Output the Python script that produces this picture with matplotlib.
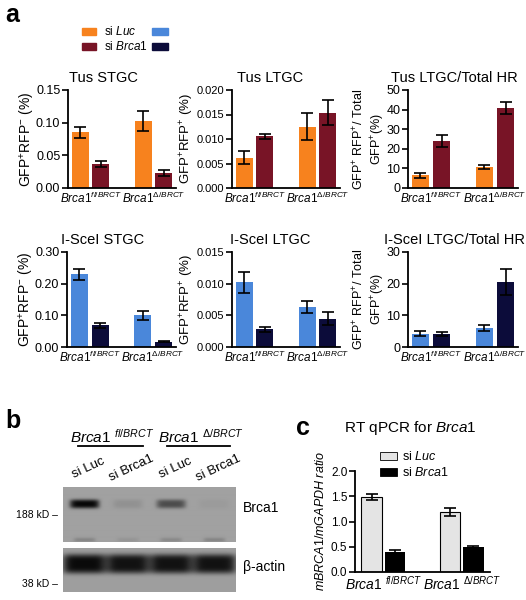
import matplotlib
matplotlib.use('Agg')
import matplotlib.pyplot as plt
import numpy as np
from matplotlib.patches import Rectangle
from matplotlib.lines import Line2D

plt.rcParams['font.family'] = ['Liberation Sans', 'DejaVu Sans']
plt.rcParams['mathtext.fontset'] = 'custom'
plt.rcParams['mathtext.rm'] = 'Liberation Sans'
plt.rcParams['mathtext.it'] = 'Liberation Sans:italic'
plt.rcParams['mathtext.bf'] = 'Liberation Sans:bold'

W, H = 526, 600

# ---------------- data ----------------
genotype_labels = [r'$\mathit{Brca1}^{\mathit{fl/BRCT}}$', r'$\mathit{Brca1}^{\mathit{Δ/BRCT}}$']

tus_stgc_luc = [0.085, 0.103]
tus_stgc_luc_err = [0.009, 0.015]
tus_stgc_brca1 = [0.037, 0.023]
tus_stgc_brca1_err = [0.005, 0.004]

tus_ltgc_luc = [0.0062, 0.0125]
tus_ltgc_luc_err = [0.0014, 0.0028]
tus_ltgc_brca1 = [0.0106, 0.0154]
tus_ltgc_brca1_err = [0.0005, 0.0025]

tus_ratio_luc = [6.5, 10.5]
tus_ratio_luc_err = [1.2, 1.0]
tus_ratio_brca1 = [24.0, 41.0]
tus_ratio_brca1_err = [3.0, 3.0]

isce_stgc_luc = [0.230, 0.100]
isce_stgc_luc_err = [0.017, 0.015]
isce_stgc_brca1 = [0.068, 0.017]
isce_stgc_brca1_err = [0.009, 0.002]

isce_ltgc_luc = [0.0102, 0.0063]
isce_ltgc_luc_err = [0.0017, 0.0010]
isce_ltgc_brca1 = [0.0028, 0.0045]
isce_ltgc_brca1_err = [0.0004, 0.0010]

isce_ratio_luc = [4.2, 5.9]
isce_ratio_luc_err = [0.7, 1.0]
isce_ratio_brca1 = [4.1, 20.5]
isce_ratio_brca1_err = [0.6, 4.0]

qpcr_luc = [1.48, 1.18]
qpcr_luc_err = [0.06, 0.08]
qpcr_brca1 = [0.40, 0.50]
qpcr_brca1_err = [0.04, 0.02]

blot_lanes = ['si Luc', 'si Brca1', 'si Luc', 'si Brca1']
brca1_band = [1.0, 0.10, 0.55, 0.04]
brca1_lower_band = [0.35, 0.15, 0.30, 0.35]
actin_band = [1.0, 0.95, 0.95, 0.95]

ORANGE = '#F7821E'
DARKRED = '#781426'
BLUE = '#4A87DA'
NAVY = '#0C0C3A'
LIGHT = '#E4E4E4'
BLACK = '#000000'

fig = plt.figure(figsize=(W / 100, H / 100), dpi=100)


def px_axes(x0, y0, x1, y1):
    return fig.add_axes([x0 / W, 1 - y1 / H, (x1 - x0) / W, (y1 - y0) / H])


def fx(x):
    return x / W


def fy(y):
    return 1 - y / H


def bar_panel(rect, luc, luc_err, br, br_err, c1, c2, ylim, yticks, fmt,
              title, ylabel, title_x=None, ylab_x=-0.33, width=0.27, off=0.165,
              edge=None, xlab_fs=8.5, xlabels=genotype_labels, title_fs=10.5,
              ylab_fs=10, xlim=(-0.36, 1.36), ytick_fs=9):
    ax = px_axes(*rect)
    x = np.arange(len(luc))
    kw = dict(width=width, zorder=2)
    ax.bar(x - off, luc, color=c1, edgecolor=edge if edge else c1,
           linewidth=0.8 if edge else 0, **kw)
    ax.bar(x + off, br, color=c2, linewidth=0, **kw)
    ax.errorbar(x - off, luc, yerr=luc_err, fmt='none', ecolor='black',
                elinewidth=1.2, capsize=4, capthick=1.2, zorder=3)
    ax.errorbar(x + off, br, yerr=br_err, fmt='none', ecolor='black',
                elinewidth=1.2, capsize=4, capthick=1.2, zorder=3)
    ax.set_xlim(*xlim)
    ax.set_ylim(*ylim)
    ax.set_yticks(yticks)
    ax.set_yticklabels([fmt % t for t in yticks], fontsize=ytick_fs)
    ax.set_xticks(x)
    ax.set_xticklabels(xlabels, fontsize=xlab_fs)
    ax.tick_params(axis='x', length=0, pad=2)
    ax.tick_params(axis='y', length=4, width=1.2, pad=1.5)
    for s in ['top', 'right']:
        ax.spines[s].set_visible(False)
    for s in ['left', 'bottom']:
        ax.spines[s].set_linewidth(1.3)
    ax.set_ylabel(ylabel, fontsize=ylab_fs)
    ax.yaxis.set_label_coords(ylab_x, 0.5)
    if title:
        tx = title_x if title_x is not None else 0.5
        ax.set_title(title, fontsize=title_fs, x=tx, pad=6)
    return ax


lab_stgc = r'GFP$^{+}$RFP$^{-}$ (%)'
lab_ltgc = r'GFP$^{+}$RFP$^{+}$ (%)'
lab_ratio = 'GFP$^{+}$ RFP$^{+}$/ Total\nGFP$^{+}$(%)'

# Row 1: Tus
bar_panel((68, 90, 176, 188), tus_stgc_luc, tus_stgc_luc_err, tus_stgc_brca1, tus_stgc_brca1_err,
          ORANGE, DARKRED, (0, 0.15), [0, 0.05, 0.10, 0.15], '%.2f', 'Tus STGC', lab_stgc,
          title_x=0.33, ylab_x=-0.285)
bar_panel((232, 90, 340, 188), tus_ltgc_luc, tus_ltgc_luc_err, tus_ltgc_brca1, tus_ltgc_brca1_err,
          ORANGE, DARKRED, (0, 0.020), [0, 0.005, 0.010, 0.015, 0.020], '%.3f', 'Tus LTGC', lab_ltgc,
          title_x=0.35, ylab_x=-0.335, ytick_fs=8, ylab_fs=9.5)
bar_panel((408, 90, 518, 188), tus_ratio_luc, tus_ratio_luc_err, tus_ratio_brca1, tus_ratio_brca1_err,
          ORANGE, DARKRED, (0, 50), [0, 10, 20, 30, 40, 50], '%d', 'Tus LTGC/Total HR', lab_ratio,
          title_x=0.42, ylab_x=-0.19, ylab_fs=9)

# Row 2: I-SceI
bar_panel((67, 252, 176, 347), isce_stgc_luc, isce_stgc_luc_err, isce_stgc_brca1, isce_stgc_brca1_err,
          BLUE, NAVY, (0, 0.30), [0, 0.10, 0.20, 0.30], '%.2f', 'I-SceI STGC', lab_stgc,
          title_x=0.33, ylab_x=-0.285)
bar_panel((232, 252, 340, 347), isce_ltgc_luc, isce_ltgc_luc_err, isce_ltgc_brca1, isce_ltgc_brca1_err,
          BLUE, NAVY, (0, 0.015), [0, 0.005, 0.010, 0.015], '%.3f', 'I-SceI LTGC', lab_ltgc,
          title_x=0.35, ylab_x=-0.335, ytick_fs=8, ylab_fs=9.5)
bar_panel((408, 252, 518, 347), isce_ratio_luc, isce_ratio_luc_err, isce_ratio_brca1, isce_ratio_brca1_err,
          BLUE, NAVY, (0, 30), [0, 10, 20, 30], '%d', 'I-SceI LTGC/Total HR', lab_ratio,
          title_x=0.42, ylab_x=-0.19, ylab_fs=9)

# Legend for panel a
for (y, c_left, c_right, lab) in [(28, ORANGE, BLUE, r'si $\mathit{Luc}$'),
                                  (43, DARKRED, NAVY, r'si $\mathit{Brca1}$')]:
    fig.patches.append(Rectangle((fx(82), fy(y + 7)), 14 / W, 7 / H, color=c_left,
                                 transform=fig.transFigure, figure=fig))
    fig.patches.append(Rectangle((fx(152), fy(y + 7)), 16 / W, 7 / H, color=c_right,
                                 transform=fig.transFigure, figure=fig))
    fig.text(fx(104), fy(y + 3.5), lab, fontsize=8.5, va='center', ha='left')

# Panel letters
fig.text(fx(5), fy(15), 'a', fontsize=18, fontweight='bold', va='center', ha='left')
fig.text(fx(5), fy(421), 'b', fontsize=18, fontweight='bold', va='center', ha='left')
fig.text(fx(296), fy(428), 'c', fontsize=18, fontweight='bold', va='center', ha='left')

# ---------------- panel b: western blot ----------------
def blot_image(intens, ycen, yhalf, xhalf, shape, bg, depth, ypow=2):
    h, w = shape
    yy, xx = np.mgrid[0:h, 0:w]
    u = (xx + 0.5) / w * len(intens) - 0.5
    v = (yy + 0.5) / h
    img = np.full((h, w), bg, dtype=float)
    for i, a in enumerate(intens):
        prof = np.exp(-((u - i) / xhalf) ** 6) * np.exp(-np.abs((v - ycen) / yhalf) ** ypow)
        img -= depth * a * prof
    return np.clip(img, 0, 1)


top = blot_image(brca1_band, 0.32, 0.08, 0.34, (55, 173), 0.63, 0.6, ypow=3)
top -= blot_image(brca1_lower_band, 0.96, 0.04, 0.25, (55, 173), 0.0, -0.3)
top = np.clip(top, 0, 1)
ax_b1 = px_axes(63, 487, 236, 542)
ax_b1.imshow(top, cmap='gray', vmin=0, vmax=1, aspect='auto', extent=(-0.5, 3.5, 1, 0),
             interpolation='bilinear')
ax_b1.axis('off')

bot = blot_image(actin_band, 0.36, 0.22, 0.50, (44, 173), 0.62, 0.58, ypow=4)
ax_b2 = px_axes(63, 548, 236, 592)
ax_b2.imshow(bot, cmap='gray', vmin=0, vmax=1, aspect='auto', extent=(-0.5, 3.5, 1, 0),
             interpolation='bilinear')
ax_b2.axis('off')

lane_px = [63 + (i + 0.5) * 173 / 4 for i in range(4)]
for xp, lab in zip(lane_px, blot_lanes):
    fig.text(fx(xp + 4), fy(468), lab, fontsize=9.5, rotation=25, ha='center', va='center')

fig.text(fx(112), fy(437), r'$\mathit{Brca1}$ $^{\mathit{fl/BRCT}}$', fontsize=11, ha='center', va='center')
fig.text(fx(201), fy(437), r'$\mathit{Brca1}$ $^{\mathit{Δ/BRCT}}$', fontsize=11, ha='center', va='center')
fig.add_artist(Line2D([fx(78), fx(143)], [fy(446), fy(446)], color='black', lw=1.3))
fig.add_artist(Line2D([fx(167), fx(230)], [fy(446), fy(446)], color='black', lw=1.3))

fig.text(fx(58), fy(515), '188 kD –', fontsize=7.5, ha='right', va='center')
fig.text(fx(58), fy(584), '38 kD –', fontsize=7.5, ha='right', va='center')
fig.text(fx(243), fy(508), 'Brca1', fontsize=10, ha='left', va='center')
fig.text(fx(243), fy(567), 'β-actin', fontsize=10, ha='left', va='center')

# ---------------- panel c: qPCR ----------------
c_labels = [r'$\mathit{Brca1}$ $^{\mathit{fl/BRCT}}$', r'$\mathit{Brca1}$ $^{\mathit{Δ/BRCT}}$']
axc = bar_panel((355, 471, 490, 572), qpcr_luc, qpcr_luc_err, qpcr_brca1, qpcr_brca1_err,
                LIGHT, BLACK, (0, 2.0), [0, 0.5, 1.0, 1.5, 2.0], '%.1f', None,
                r'$\mathit{mBRCA1/mGAPDH\ ratio}$', ylab_x=-0.205, width=0.26, off=0.148,
                edge='black', xlab_fs=10, xlabels=c_labels, ylab_fs=9, ytick_fs=8.5)
fig.text(fx(410), fy(428), r'RT qPCR for $\mathit{Brca1}$', fontsize=11, ha='center', va='center')
for (y, c, lab) in [(452, LIGHT, r'si $\mathit{Luc}$'), (468, BLACK, r'si $\mathit{Brca1}$')]:
    fig.patches.append(Rectangle((fx(380), fy(y + 8)), 17 / W, 8 / H, facecolor=c,
                                 edgecolor='black', lw=0.6,
                                 transform=fig.transFigure, figure=fig))
    fig.text(fx(402), fy(y + 4), lab, fontsize=9, va='center', ha='left')

fig.savefig('out.png', dpi=100)
